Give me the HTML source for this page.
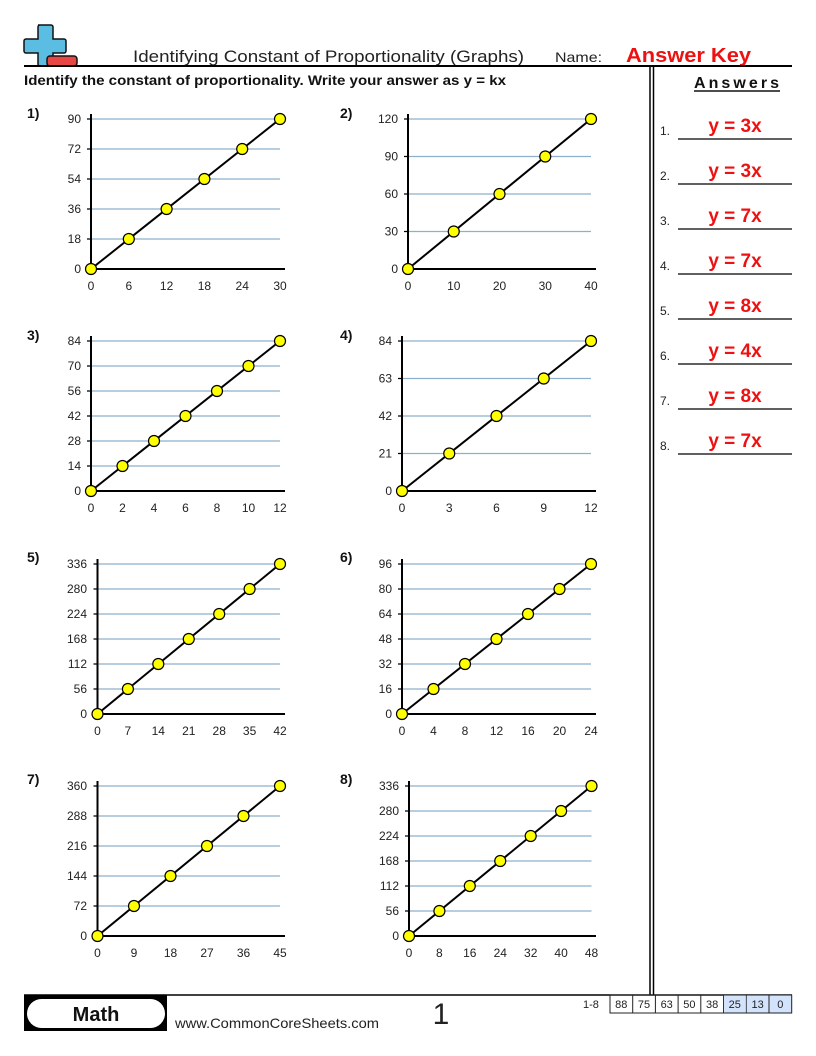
<!DOCTYPE html>
<html><head><meta charset="utf-8"><style>
html,body{margin:0;padding:0;background:#fff;}
svg{display:block;}
text{font-family:"Liberation Sans",sans-serif;}
.g{stroke:#8db0cc;stroke-width:1.2;}
.ax{stroke:#000;stroke-width:2;}
.tk{stroke:#000;stroke-width:1.2;fill:none;}
.ln{stroke:#000;stroke-width:2;fill:none;}
.pt{fill:#ffff00;stroke:#000;stroke-width:1.2;}
.tl{font-size:12px;fill:#222;}
.pl{font-size:14px;font-weight:bold;fill:#111;}
.ans{font-size:19px;font-weight:bold;fill:#ee1111;}
.num{font-size:12px;fill:#222;}
</style></head><body>
<svg width="816" height="1056" viewBox="0 0 816 1056" xmlns="http://www.w3.org/2000/svg">
<!-- logo -->
<path d="M38,25 h13 a2,2 0 0 1 2,2 v12 h11 a2,2 0 0 1 2,2 v10 a2,2 0 0 1 -2,2 h-11 v11 a2,2 0 0 1 -2,2 h-11 a2,2 0 0 1 -2,-2 v-11 h-12 a2,2 0 0 1 -2,-2 v-10 a2,2 0 0 1 2,-2 h12 v-12 a2,2 0 0 1 2,-2 z" fill="#5bbde2" stroke="#111" stroke-width="1.5"/>
<rect x="47" y="56" width="30" height="10" rx="3" fill="#e84545" stroke="#111" stroke-width="1.5"/>
<!-- header -->
<text x="133" y="62" font-size="17" fill="#222" textLength="391" lengthAdjust="spacingAndGlyphs">Identifying Constant of Proportionality (Graphs)</text>
<text x="555" y="62" font-size="14" fill="#222" textLength="47" lengthAdjust="spacingAndGlyphs">Name:</text>
<text x="626" y="62" font-size="20" font-weight="bold" fill="#ee1111" textLength="125" lengthAdjust="spacingAndGlyphs">Answer Key</text>
<line x1="24" y1="66" x2="792" y2="66" stroke="#000" stroke-width="2"/>
<text x="24" y="85" font-size="14" font-weight="bold" fill="#111" textLength="482" lengthAdjust="spacingAndGlyphs">Identify the constant of proportionality. Write your answer as y = kx</text>
<text x="694" y="88" font-size="16" font-weight="bold" fill="#111" textLength="85" lengthAdjust="spacing">Answers</text>
<line x1="694" y1="91" x2="780" y2="91" stroke="#111" stroke-width="1.5"/>
<line x1="650" y1="66" x2="650" y2="995" stroke="#000" stroke-width="1.5"/>
<line x1="653.5" y1="66" x2="653.5" y2="995" stroke="#000" stroke-width="1.5"/>
<!-- answers -->
<g>
<text class="num" x="660" y="135">1.</text><line x1="678" y1="139" x2="792" y2="139" stroke="#000" stroke-width="1.3"/><text class="ans" x="735" y="132" text-anchor="middle">y = 3x</text>
<text class="num" x="660" y="180">2.</text><line x1="678" y1="184" x2="792" y2="184" stroke="#000" stroke-width="1.3"/><text class="ans" x="735" y="177" text-anchor="middle">y = 3x</text>
<text class="num" x="660" y="225">3.</text><line x1="678" y1="229" x2="792" y2="229" stroke="#000" stroke-width="1.3"/><text class="ans" x="735" y="222" text-anchor="middle">y = 7x</text>
<text class="num" x="660" y="270">4.</text><line x1="678" y1="274" x2="792" y2="274" stroke="#000" stroke-width="1.3"/><text class="ans" x="735" y="267" text-anchor="middle">y = 7x</text>
<text class="num" x="660" y="315">5.</text><line x1="678" y1="319" x2="792" y2="319" stroke="#000" stroke-width="1.3"/><text class="ans" x="735" y="312" text-anchor="middle">y = 8x</text>
<text class="num" x="660" y="360">6.</text><line x1="678" y1="364" x2="792" y2="364" stroke="#000" stroke-width="1.3"/><text class="ans" x="735" y="357" text-anchor="middle">y = 4x</text>
<text class="num" x="660" y="405">7.</text><line x1="678" y1="409" x2="792" y2="409" stroke="#000" stroke-width="1.3"/><text class="ans" x="735" y="402" text-anchor="middle">y = 8x</text>
<text class="num" x="660" y="450">8.</text><line x1="678" y1="454" x2="792" y2="454" stroke="#000" stroke-width="1.3"/><text class="ans" x="735" y="447" text-anchor="middle">y = 7x</text>
</g>

<!-- Chart 1 -->
<g>
<text class="pl" x="27" y="118">1)</text>
<line class="g" x1="91" y1="239" x2="280" y2="239"/><line class="g" x1="91" y1="209" x2="280" y2="209"/><line class="g" x1="91" y1="179" x2="280" y2="179"/><line class="g" x1="91" y1="149" x2="280" y2="149"/><line class="g" x1="91" y1="119" x2="280" y2="119"/>
<path class="tk" d="M87,239h4M87,209h4M87,179h4M87,149h4M87,119h4"/>
<line class="ax" x1="91" y1="114" x2="91" y2="270"/><line class="ax" x1="90" y1="269" x2="285" y2="269"/>
<g class="tl" text-anchor="end"><text x="81" y="273">0</text><text x="81" y="243">18</text><text x="81" y="213">36</text><text x="81" y="183">54</text><text x="81" y="153">72</text><text x="81" y="123">90</text></g>
<g class="tl" text-anchor="middle"><text x="91" y="290">0</text><text x="128.8" y="290">6</text><text x="166.6" y="290">12</text><text x="204.4" y="290">18</text><text x="242.2" y="290">24</text><text x="280" y="290">30</text></g>
<line class="ln" x1="91" y1="269" x2="280" y2="119"/>
<circle class="pt" cx="91" cy="269" r="5.5"/><circle class="pt" cx="128.8" cy="239" r="5.5"/><circle class="pt" cx="166.6" cy="209" r="5.5"/><circle class="pt" cx="204.4" cy="179" r="5.5"/><circle class="pt" cx="242.2" cy="149" r="5.5"/><circle class="pt" cx="280" cy="119" r="5.5"/>
</g>

<!-- Chart 2 -->
<g>
<text class="pl" x="340" y="118">2)</text>
<line class="g" x1="408" y1="231.5" x2="591" y2="231.5"/><line class="g" x1="408" y1="194" x2="591" y2="194"/><line class="g" x1="408" y1="156.5" x2="591" y2="156.5"/><line class="g" x1="408" y1="119" x2="591" y2="119"/>
<path class="tk" d="M404,231.5h4M404,194h4M404,156.5h4M404,119h4"/>
<line class="ax" x1="408" y1="114" x2="408" y2="270"/><line class="ax" x1="407" y1="269" x2="596" y2="269"/>
<g class="tl" text-anchor="end"><text x="398" y="273">0</text><text x="398" y="235.5">30</text><text x="398" y="198">60</text><text x="398" y="160.5">90</text><text x="398" y="123">120</text></g>
<g class="tl" text-anchor="middle"><text x="408" y="290">0</text><text x="453.75" y="290">10</text><text x="499.5" y="290">20</text><text x="545.25" y="290">30</text><text x="591" y="290">40</text></g>
<line class="ln" x1="408" y1="269" x2="591" y2="119"/>
<circle class="pt" cx="408" cy="269" r="5.5"/><circle class="pt" cx="453.75" cy="231.5" r="5.5"/><circle class="pt" cx="499.5" cy="194" r="5.5"/><circle class="pt" cx="545.25" cy="156.5" r="5.5"/><circle class="pt" cx="591" cy="119" r="5.5"/>
</g>

<!-- Chart 3 -->
<g>
<text class="pl" x="27" y="340">3)</text>
<line class="g" x1="91" y1="466" x2="280" y2="466"/><line class="g" x1="91" y1="441" x2="280" y2="441"/><line class="g" x1="91" y1="416" x2="280" y2="416"/><line class="g" x1="91" y1="391" x2="280" y2="391"/><line class="g" x1="91" y1="366" x2="280" y2="366"/><line class="g" x1="91" y1="341" x2="280" y2="341"/>
<path class="tk" d="M87,466h4M87,441h4M87,416h4M87,391h4M87,366h4M87,341h4"/>
<line class="ax" x1="91" y1="336" x2="91" y2="492"/><line class="ax" x1="90" y1="491" x2="285" y2="491"/>
<g class="tl" text-anchor="end"><text x="81" y="495">0</text><text x="81" y="470">14</text><text x="81" y="445">28</text><text x="81" y="420">42</text><text x="81" y="395">56</text><text x="81" y="370">70</text><text x="81" y="345">84</text></g>
<g class="tl" text-anchor="middle"><text x="91" y="512">0</text><text x="122.5" y="512">2</text><text x="154" y="512">4</text><text x="185.5" y="512">6</text><text x="217" y="512">8</text><text x="248.5" y="512">10</text><text x="280" y="512">12</text></g>
<line class="ln" x1="91" y1="491" x2="280" y2="341"/>
<circle class="pt" cx="91" cy="491" r="5.5"/><circle class="pt" cx="122.5" cy="466" r="5.5"/><circle class="pt" cx="154" cy="441" r="5.5"/><circle class="pt" cx="185.5" cy="416" r="5.5"/><circle class="pt" cx="217" cy="391" r="5.5"/><circle class="pt" cx="248.5" cy="366" r="5.5"/><circle class="pt" cx="280" cy="341" r="5.5"/>
</g>

<!-- Chart 4 -->
<g>
<text class="pl" x="340" y="340">4)</text>
<line class="g" x1="402" y1="453.5" x2="591" y2="453.5"/><line class="g" x1="402" y1="416" x2="591" y2="416"/><line class="g" x1="402" y1="378.5" x2="591" y2="378.5"/><line class="g" x1="402" y1="341" x2="591" y2="341"/>
<path class="tk" d="M398,453.5h4M398,416h4M398,378.5h4M398,341h4"/>
<line class="ax" x1="402" y1="336" x2="402" y2="492"/><line class="ax" x1="401" y1="491" x2="596" y2="491"/>
<g class="tl" text-anchor="end"><text x="392" y="495">0</text><text x="392" y="457.5">21</text><text x="392" y="420">42</text><text x="392" y="382.5">63</text><text x="392" y="345">84</text></g>
<g class="tl" text-anchor="middle"><text x="402" y="512">0</text><text x="449.25" y="512">3</text><text x="496.5" y="512">6</text><text x="543.75" y="512">9</text><text x="591" y="512">12</text></g>
<line class="ln" x1="402" y1="491" x2="591" y2="341"/>
<circle class="pt" cx="402" cy="491" r="5.5"/><circle class="pt" cx="449.25" cy="453.5" r="5.5"/><circle class="pt" cx="496.5" cy="416" r="5.5"/><circle class="pt" cx="543.75" cy="378.5" r="5.5"/><circle class="pt" cx="591" cy="341" r="5.5"/>
</g>

<!-- Chart 5 -->
<g>
<text class="pl" x="27" y="562">5)</text>
<line class="g" x1="97.5" y1="689" x2="280" y2="689"/><line class="g" x1="97.5" y1="664" x2="280" y2="664"/><line class="g" x1="97.5" y1="639" x2="280" y2="639"/><line class="g" x1="97.5" y1="614" x2="280" y2="614"/><line class="g" x1="97.5" y1="589" x2="280" y2="589"/><line class="g" x1="97.5" y1="564" x2="280" y2="564"/>
<path class="tk" d="M93.5,689h4M93.5,664h4M93.5,639h4M93.5,614h4M93.5,589h4M93.5,564h4"/>
<line class="ax" x1="97.5" y1="559" x2="97.5" y2="715"/><line class="ax" x1="96.5" y1="714" x2="285" y2="714"/>
<g class="tl" text-anchor="end"><text x="87" y="718">0</text><text x="87" y="693">56</text><text x="87" y="668">112</text><text x="87" y="643">168</text><text x="87" y="618">224</text><text x="87" y="593">280</text><text x="87" y="568">336</text></g>
<g class="tl" text-anchor="middle"><text x="97.5" y="735">0</text><text x="127.9" y="735">7</text><text x="158.3" y="735">14</text><text x="188.75" y="735">21</text><text x="219.2" y="735">28</text><text x="249.6" y="735">35</text><text x="280" y="735">42</text></g>
<line class="ln" x1="97.5" y1="714" x2="280" y2="564"/>
<circle class="pt" cx="97.5" cy="714" r="5.5"/><circle class="pt" cx="127.9" cy="689" r="5.5"/><circle class="pt" cx="158.3" cy="664" r="5.5"/><circle class="pt" cx="188.75" cy="639" r="5.5"/><circle class="pt" cx="219.2" cy="614" r="5.5"/><circle class="pt" cx="249.6" cy="589" r="5.5"/><circle class="pt" cx="280" cy="564" r="5.5"/>
</g>

<!-- Chart 6 -->
<g>
<text class="pl" x="340" y="562">6)</text>
<line class="g" x1="402" y1="689" x2="591" y2="689"/><line class="g" x1="402" y1="664" x2="591" y2="664"/><line class="g" x1="402" y1="639" x2="591" y2="639"/><line class="g" x1="402" y1="614" x2="591" y2="614"/><line class="g" x1="402" y1="589" x2="591" y2="589"/><line class="g" x1="402" y1="564" x2="591" y2="564"/>
<path class="tk" d="M398,689h4M398,664h4M398,639h4M398,614h4M398,589h4M398,564h4"/>
<line class="ax" x1="402" y1="559" x2="402" y2="715"/><line class="ax" x1="401" y1="714" x2="596" y2="714"/>
<g class="tl" text-anchor="end"><text x="392" y="718">0</text><text x="392" y="693">16</text><text x="392" y="668">32</text><text x="392" y="643">48</text><text x="392" y="618">64</text><text x="392" y="593">80</text><text x="392" y="568">96</text></g>
<g class="tl" text-anchor="middle"><text x="402" y="735">0</text><text x="433.5" y="735">4</text><text x="465" y="735">8</text><text x="496.5" y="735">12</text><text x="528" y="735">16</text><text x="559.5" y="735">20</text><text x="591" y="735">24</text></g>
<line class="ln" x1="402" y1="714" x2="591" y2="564"/>
<circle class="pt" cx="402" cy="714" r="5.5"/><circle class="pt" cx="433.5" cy="689" r="5.5"/><circle class="pt" cx="465" cy="664" r="5.5"/><circle class="pt" cx="496.5" cy="639" r="5.5"/><circle class="pt" cx="528" cy="614" r="5.5"/><circle class="pt" cx="559.5" cy="589" r="5.5"/><circle class="pt" cx="591" cy="564" r="5.5"/>
</g>

<!-- Chart 7 -->
<g>
<text class="pl" x="27" y="784">7)</text>
<line class="g" x1="97.5" y1="906" x2="280" y2="906"/><line class="g" x1="97.5" y1="876" x2="280" y2="876"/><line class="g" x1="97.5" y1="846" x2="280" y2="846"/><line class="g" x1="97.5" y1="816" x2="280" y2="816"/><line class="g" x1="97.5" y1="786" x2="280" y2="786"/>
<path class="tk" d="M93.5,906h4M93.5,876h4M93.5,846h4M93.5,816h4M93.5,786h4"/>
<line class="ax" x1="97.5" y1="781" x2="97.5" y2="937"/><line class="ax" x1="96.5" y1="936" x2="285" y2="936"/>
<g class="tl" text-anchor="end"><text x="87" y="940">0</text><text x="87" y="910">72</text><text x="87" y="880">144</text><text x="87" y="850">216</text><text x="87" y="820">288</text><text x="87" y="790">360</text></g>
<g class="tl" text-anchor="middle"><text x="97.5" y="957">0</text><text x="134" y="957">9</text><text x="170.5" y="957">18</text><text x="207" y="957">27</text><text x="243.5" y="957">36</text><text x="280" y="957">45</text></g>
<line class="ln" x1="97.5" y1="936" x2="280" y2="786"/>
<circle class="pt" cx="97.5" cy="936" r="5.5"/><circle class="pt" cx="134" cy="906" r="5.5"/><circle class="pt" cx="170.5" cy="876" r="5.5"/><circle class="pt" cx="207" cy="846" r="5.5"/><circle class="pt" cx="243.5" cy="816" r="5.5"/><circle class="pt" cx="280" cy="786" r="5.5"/>
</g>

<!-- Chart 8 -->
<g>
<text class="pl" x="340" y="784">8)</text>
<line class="g" x1="409" y1="911" x2="591.5" y2="911"/><line class="g" x1="409" y1="886" x2="591.5" y2="886"/><line class="g" x1="409" y1="861" x2="591.5" y2="861"/><line class="g" x1="409" y1="836" x2="591.5" y2="836"/><line class="g" x1="409" y1="811" x2="591.5" y2="811"/><line class="g" x1="409" y1="786" x2="591.5" y2="786"/>
<path class="tk" d="M405,911h4M405,886h4M405,861h4M405,836h4M405,811h4M405,786h4"/>
<line class="ax" x1="409" y1="781" x2="409" y2="937"/><line class="ax" x1="408" y1="936" x2="596" y2="936"/>
<g class="tl" text-anchor="end"><text x="399" y="940">0</text><text x="399" y="915">56</text><text x="399" y="890">112</text><text x="399" y="865">168</text><text x="399" y="840">224</text><text x="399" y="815">280</text><text x="399" y="790">336</text></g>
<g class="tl" text-anchor="middle"><text x="409" y="957">0</text><text x="439.4" y="957">8</text><text x="469.8" y="957">16</text><text x="500.25" y="957">24</text><text x="530.7" y="957">32</text><text x="561.1" y="957">40</text><text x="591.5" y="957">48</text></g>
<line class="ln" x1="409" y1="936" x2="591.5" y2="786"/>
<circle class="pt" cx="409" cy="936" r="5.5"/><circle class="pt" cx="439.4" cy="911" r="5.5"/><circle class="pt" cx="469.8" cy="886" r="5.5"/><circle class="pt" cx="500.25" cy="861" r="5.5"/><circle class="pt" cx="530.7" cy="836" r="5.5"/><circle class="pt" cx="561.1" cy="811" r="5.5"/><circle class="pt" cx="591.5" cy="786" r="5.5"/>
</g>

<!-- footer -->
<line x1="24" y1="995" x2="792" y2="995" stroke="#000" stroke-width="1.5"/>
<rect x="24" y="995" width="143" height="36" fill="#000"/>
<rect x="27" y="999" width="138" height="29" rx="14.5" fill="#fff"/>
<text x="96" y="1021" font-size="20" font-weight="bold" fill="#111" text-anchor="middle">Math</text>
<text x="175" y="1028" font-size="14" fill="#222" textLength="204" lengthAdjust="spacingAndGlyphs">www.CommonCoreSheets.com</text>
<text x="441" y="1024" font-size="30" fill="#222" text-anchor="middle">1</text>
<text x="583" y="1008" font-size="11" fill="#222">1-8</text>
<rect x="746.7" y="995" width="45" height="18" fill="#d3e3fb"/>
<rect x="610" y="995" width="181.7" height="18" fill="none" stroke="#222" stroke-width="1"/>
<g stroke="#222" stroke-width="1">
<line x1="632.7" y1="995" x2="632.7" y2="1013"/><line x1="655.4" y1="995" x2="655.4" y2="1013"/><line x1="678.1" y1="995" x2="678.1" y2="1013"/><line x1="700.8" y1="995" x2="700.8" y2="1013"/><line x1="723.5" y1="995" x2="723.5" y2="1013"/><line x1="746.2" y1="995" x2="746.2" y2="1013"/><line x1="769" y1="995" x2="769" y2="1013"/>
</g>
<rect x="723.9" y="995.5" width="21.9" height="17" fill="#d3e3fb"/>
<g font-size="11" fill="#222" text-anchor="middle">
<text x="621.3" y="1008">88</text><text x="644" y="1008">75</text><text x="666.7" y="1008">63</text><text x="689.4" y="1008">50</text><text x="712.1" y="1008">38</text><text x="734.8" y="1008">25</text><text x="757.6" y="1008">13</text><text x="780.3" y="1008">0</text>
</g>
</svg>
</body></html>
